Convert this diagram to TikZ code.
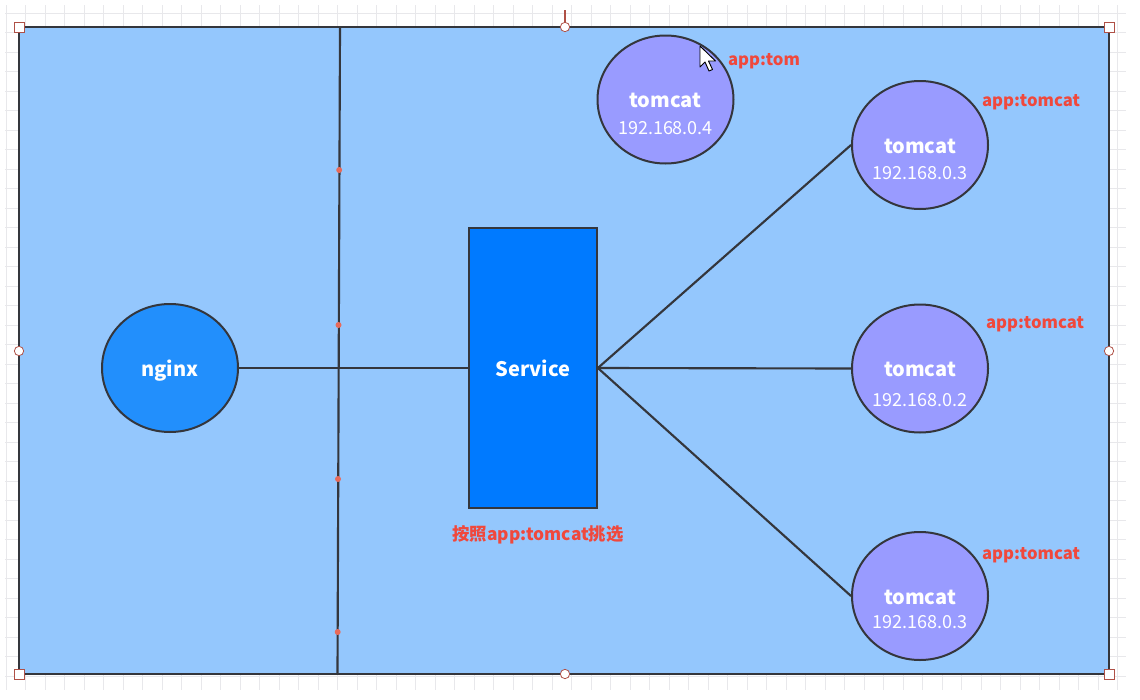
\documentclass[tikz,border=0pt]{standalone}
\usepackage{fontspec}
\setmainfont{Noto Sans CJK SC}
\usetikzlibrary{shapes.geometric,calc}
\definecolor{bgblue}{RGB}{148,199,253}
\definecolor{edge}{RGB}{52,54,60}
\definecolor{nginxblue}{RGB}{34,143,252}
\definecolor{svcblue}{RGB}{0,122,255}
\definecolor{tomfill}{RGB}{153,155,255}
\definecolor{lblred}{RGB}{240,72,60}
\definecolor{handle}{RGB}{175,80,70}
\definecolor{dotred}{RGB}{232,106,90}
\definecolor{gridc}{RGB}{232,232,235}
\tikzset{
  pod/.style={ellipse, draw=edge, line width=1.5pt, fill=tomfill, minimum width=102pt, minimum height=96pt, inner sep=0pt},
  podname/.style={text=white, font=\bfseries\fontsize{15}{17}\selectfont},
  podip/.style={text=white, font=\fontsize{13.5}{16}\selectfont},
  applbl/.style={text=lblred, font=\bfseries\fontsize{12.5}{15}\selectfont},
  link/.style={draw=edge, line width=1.6pt},
  sqhandle/.style={draw=handle, fill=white, line width=0.6pt, minimum size=7.5pt, inner sep=0pt, rectangle},
  cirhandle/.style={draw=handle, fill=white, line width=0.6pt, minimum size=7pt, inner sep=0pt, circle},
  reddot/.style={fill=dotred, circle, minimum size=4.5pt, inner sep=0pt}
}
\begin{document}
\begin{tikzpicture}[x=0.75pt,y=-0.75pt]
\useasboundingbox (0,0) rectangle (1140,700);
\fill[white] (0,0) rectangle (1140,700);
% faint grid
\foreach \gx in {6,25.5,...,1126} {\draw[gridc, line width=0.6pt] (\gx,5) -- (\gx,690);}
\foreach \gy in {13,32.5,...,690} {\draw[gridc, line width=0.6pt] (5,\gy) -- (1126,\gy);}
% main frame
\draw[edge, fill=bgblue, line width=1.6pt] (19,27) rectangle (1109,674);
% vertical divider
\coordinate (vt) at (340,28);
\coordinate (vb) at (337.5,673);
\draw[link] (vt) -- (vb);
\foreach \yy/\xx in {170/339.2,325/338.5,479/338,632/337.7} {\node[reddot] at (\xx,\yy) {};}
% nginx
\node[ellipse, draw=edge, line width=1.5pt, fill=nginxblue, minimum width=102pt, minimum height=96pt, inner sep=0pt] (nginx) at (170,368) {};
\node[podname] at ($(nginx.center)+(0,3)$) {nginx};
% service
\node[rectangle, draw=edge, line width=1.3pt, fill=svcblue, minimum width=96pt, minimum height=210pt, inner sep=0pt] (svc) at (533,368) {};
\node[podname] at (svc.center) {Service};
\node[applbl, font=\bfseries\fontsize{13}{15}\selectfont] (sel) at (538,535) {按照app:tomcat挑选};
% pods
\node[pod] (t0) at (665.5,99.5) {};
\node[pod] (t1) at (920,145) {};
\node[pod] (t2) at (920,368.5) {};
\node[pod] (t3) at (920,596) {};
\node[podname] at ($(t0.center)+(0,1)$) {tomcat};
\node[podip] at ($(t0.center)+(0,29)$) {192.168.0.4};
\node[podname] at ($(t1.center)+(0,1)$) {tomcat};
\node[podip] at ($(t1.center)+(0,28)$) {192.168.0.3};
\node[podname] at ($(t2.center)+(0,1)$) {tomcat};
\node[podip] at ($(t2.center)+(0,32)$) {192.168.0.2};
\node[podname] at ($(t3.center)+(0,1)$) {tomcat};
\node[podip] at ($(t3.center)+(0,26)$) {192.168.0.3};
\node[applbl] (l0) at (764,61) {app:tom};
\node[applbl] (l1) at (1031,102) {app:tomcat};
\node[applbl] (l2) at (1035,324) {app:tomcat};
\node[applbl] (l3) at (1031,555) {app:tomcat};
% connectors
\draw[link] (nginx.east) -- (svc.west);
\draw[link] (svc.east) -- (t1.west);
\draw[link] (svc.east) -- (t2.west);
\draw[link] (svc.east) -- (t3.west);
% selection handles
\coordinate (rt) at (565,10);
\draw[handle, line width=0.8pt] (rt) -- (565,22);
\node[sqhandle] (h1) at (19,27) {};
\node[sqhandle] (h2) at (1109,27) {};
\node[sqhandle] (h3) at (19,674) {};
\node[sqhandle] (h4) at (1109,674) {};
\node[cirhandle] (h5) at (565,27) {};
\node[cirhandle] (h6) at (19,351) {};
\node[cirhandle] (h7) at (1109,351) {};
\node[cirhandle] (h8) at (565,674) {};
% mouse cursor
\draw[black, fill=white, line width=0.7pt, line join=round] (700,46) -- (700,67) -- (705,62) -- (709,71) -- (712.5,69.5) -- (708.5,61) -- (715.5,61) -- cycle;
\end{tikzpicture}
\end{document}
